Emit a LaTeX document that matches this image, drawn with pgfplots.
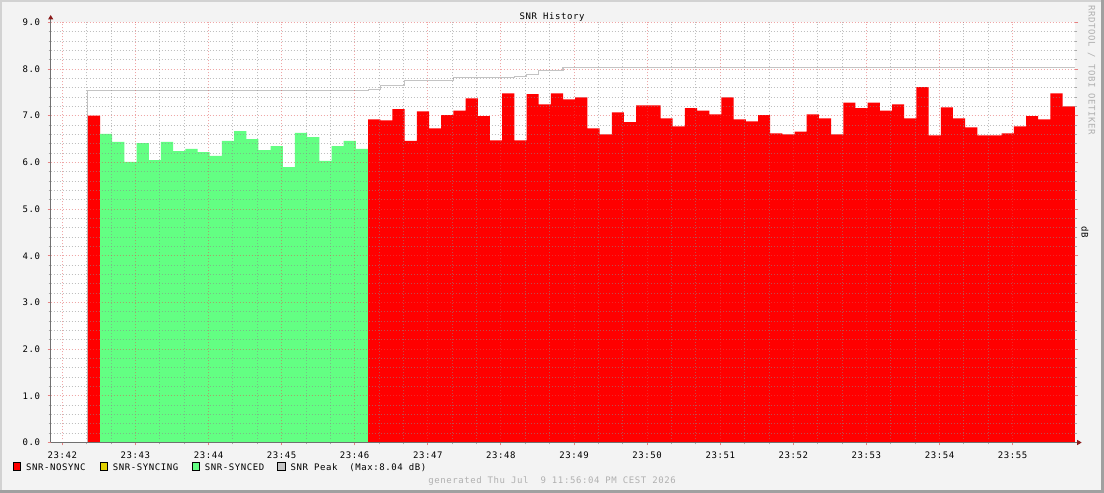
\documentclass[border=0pt]{standalone}
\usepackage{fontspec}
\setmainfont{DejaVu Sans Mono}[LetterSpace=6.5]
\usepackage{pgfplots}
\pgfplotsset{compat=1.18}
\usetikzlibrary{arrows.meta}

\definecolor{back}{HTML}{F3F3F3}
\definecolor{shadea}{HTML}{D2D2D2}
\definecolor{shadeb}{HTML}{A0A0A0}
\definecolor{nosync}{HTML}{FF0000}
\definecolor{syncing}{HTML}{E0D000}
\definecolor{synced}{HTML}{63FF83}
\definecolor{peak}{HTML}{C4C4C4}
\definecolor{mgrid}{HTML}{E05050}
\definecolor{grid}{HTML}{8C8C8C}
\definecolor{axiscol}{HTML}{707070}
\definecolor{arrowcol}{HTML}{8B1A1A}
\definecolor{wm}{HTML}{B0B0B0}

\newcommand\rrdfont{\fontsize{9bp}{10bp}\selectfont}

\begin{document}
\begin{tikzpicture}[font=\rrdfont]
% canvas and frame
\fill[back] (0,0) rectangle (1104bp,493bp);
\fill[shadea] (0,491bp) rectangle (1104bp,493bp);
\fill[shadea] (0,0) rectangle (2bp,493bp);
\fill[shadeb] (1101bp,0) rectangle (1104bp,493bp);
\fill[shadeb] (0,0) rectangle (1104bp,2.5bp);

\begin{axis}[
    at={(50.7bp,50.5bp)}, anchor=south west,
    scale only axis, width=1024.5bp, height=420.2bp,
    xmin=-9.5, xmax=831.3, ymin=0, ymax=9,
    axis background/.style={fill=white},
    axis on top,
    axis line style={draw=none},
    xtick={0,60,...,780},
    xticklabels={23:42,23:43,23:44,23:45,23:46,23:47,23:48,23:49,23:50,23:51,23:52,23:53,23:54,23:55},
    minor x tick num=2,
    ytick={0,1,...,9},
    yticklabels={0.0,1.0,2.0,3.0,4.0,5.0,6.0,7.0,8.0,9.0},
    minor y tick num=4,
    grid=both,
    major grid style={draw=mgrid, opacity=0.5, line width=0.9bp, dash pattern=on 1bp off 2bp},
    minor grid style={draw=grid, opacity=0.55, line width=0.9bp, dash pattern=on 1bp off 2bp},
    tick align=outside, xtick pos=left, ytick pos=both,
    major tick length=3bp, minor tick length=2bp,
    major tick style={draw=mgrid, opacity=0.7, line width=0.9bp},
    minor tick style={draw=grid, opacity=0.7, line width=0.9bp},
    tick label style={font=\rrdfont},
    xticklabel style={anchor=base, inner sep=0pt, yshift=-12.5bp},
    yticklabel style={anchor=east, inner sep=0pt, xshift=-7.4bp},
]
% SNR Peak
\addplot[peak, line width=1.2bp, const plot] coordinates {
    (21,0) (21,7.54) (251,7.56) (261,7.65) (281,7.76) (321,7.81) (371,7.84)
    (381,7.89) (391,7.96) (411,8.04) (831,8.04)
};
% SNR-NOSYNC (first sample)
\addplot[draw=none, fill=nosync, const plot] coordinates {
    (21,7.00) (31,7.00)
} \closedcycle;
% SNR-SYNCED
\addplot[draw=none, fill=synced, const plot] coordinates {
    (31,6.61) (41,6.44) (51,6.01) (61,6.41) (71,6.05) (81,6.44) (91,6.24)
    (101,6.29) (111,6.22) (121,6.14) (131,6.46) (141,6.67) (151,6.50)
    (161,6.26) (171,6.35) (181,5.90) (191,6.63) (201,6.54) (211,6.03)
    (221,6.35) (231,6.46) (241,6.29) (251,6.29)
} \closedcycle;
% SNR-NOSYNC
\addplot[draw=none, fill=nosync, const plot] coordinates {
    (251,6.92) (261,6.90) (271,7.14) (281,6.46) (291,7.09) (301,6.73)
    (311,7.01) (321,7.11) (331,7.37) (341,6.99) (351,6.47) (361,7.48)
    (371,6.47) (381,7.46) (391,7.24) (401,7.48) (411,7.35) (421,7.39)
    (431,6.73) (441,6.60) (451,7.07) (461,6.86) (471,7.22) (481,7.22)
    (491,6.94) (501,6.77) (511,7.16) (521,7.11) (531,7.03) (541,7.39)
    (551,6.92) (561,6.88) (571,7.01) (581,6.62) (591,6.60) (601,6.66)
    (611,7.03) (621,6.94) (631,6.60) (641,7.28) (651,7.16) (661,7.28)
    (671,7.11) (681,7.24) (691,6.94) (701,7.61) (711,6.58) (721,7.18)
    (731,6.94) (741,6.75) (751,6.58) (761,6.58) (771,6.62) (781,6.77)
    (791,6.99) (801,6.92) (811,7.48) (821,7.20) (831,7.20)
} \closedcycle;
\end{axis}

% axes with arrows
\draw[axiscol, line width=1bp, -{Triangle[width=5bp,length=4.5bp,color=arrowcol]}]
    (50.7bp,50.5bp) -- (50.7bp,478bp);
\draw[axiscol, line width=1bp, -{Triangle[width=5bp,length=4.5bp,color=arrowcol]}]
    (50.7bp,50.5bp) -- (1081.7bp,50.5bp);

% title and side texts
\node[anchor=base, inner sep=0pt] at (552bp,473.7bp) {SNR History};
\node[anchor=base west, rotate=-90, inner sep=0pt, text=wm] at (1088.5bp,488bp) {RRDTOOL / TOBI OETIKER};
\node[anchor=base, rotate=-90, inner sep=0pt] at (1081.7bp,261bp) {dB};

% legend
\foreach \c/\x/\t in {nosync/13.3/SNR-NOSYNC, syncing/100/SNR-SYNCING, synced/192/SNR-SYNCED, peak/277.7/SNR Peak~~(Max:8.04 dB)} {
    \filldraw[fill=\c, draw=black, line width=0.9bp] (\x bp,23bp) rectangle ++(7.4bp,7.3bp);
    \node[anchor=base west, inner sep=0pt] at (\x bp+12.7bp,23bp) {\t};
}
\node[anchor=base, inner sep=0pt, text=wm] at (552bp,9.5bp) {generated Thu Jul~~9 11:56:04 PM CEST 2026};

\pgfresetboundingbox
\path[use as bounding box] (0,0) rectangle (1104bp,493bp);
\end{tikzpicture}
\end{document}
